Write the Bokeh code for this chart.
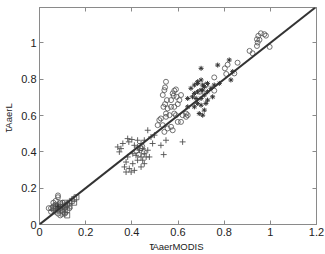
from bokeh.plotting import figure
from bokeh.models import (FixedTicker, LinearAxis, Range1d, Label, Slope)
from bokeh.embed import file_html
from bokeh.resources import INLINE

# ---- data ----
circle_x = [0.948, 0.959, 0.974, 0.942, 0.953, 0.945, 0.981, 0.997, 0.942, 0.910, 0.923,
            0.858, 0.815, 0.803, 0.844, 0.809, 0.757, 0.721, 0.757, 0.694, 0.642, 0.635,
            0.548, 0.544, 0.541, 0.534, 0.552, 0.544, 0.537, 0.570, 0.581, 0.584, 0.591,
            0.577, 0.594, 0.606, 0.613, 0.599, 0.584, 0.570, 0.555, 0.548, 0.526, 0.519,
            0.512, 0.534, 0.548, 0.563, 0.584, 0.591, 0.570, 0.541, 0.555, 0.577, 0.599,
            0.620, 0.613, 0.635,
            0.440, 0.430, 0.452, 0.420, 0.445,
            0.08, 0.08, 0.07, 0.06, 0.09, 0.05, 0.06, 0.07, 0.08, 0.09, 0.10, 0.11,
            0.06, 0.07, 0.09, 0.10, 0.11, 0.12, 0.05, 0.08, 0.10, 0.13, 0.04, 0.07]
circle_y = [1.039, 1.053, 1.048, 1.020, 1.017, 1.002, 1.040, 0.978, 0.983, 0.956, 0.943,
            0.891, 0.880, 0.860, 0.832, 0.829, 0.810, 0.768, 0.737, 0.731, 0.602, 0.593,
            0.786, 0.755, 0.740, 0.713, 0.685, 0.663, 0.648, 0.685, 0.709, 0.737, 0.744,
            0.722, 0.703, 0.685, 0.713, 0.663, 0.648, 0.648, 0.639, 0.611, 0.584, 0.575,
            0.547, 0.547, 0.593, 0.602, 0.611, 0.602, 0.538, 0.510, 0.529, 0.519, 0.565,
            0.602, 0.565, 0.611,
            0.420, 0.385, 0.400, 0.405, 0.430,
            0.16, 0.15, 0.13, 0.12, 0.12, 0.09, 0.08, 0.07, 0.06, 0.05, 0.07, 0.06,
            0.10, 0.09, 0.09, 0.10, 0.09, 0.11, 0.07, 0.08, 0.12, 0.09, 0.09, 0.11]

plus_x = [0.339, 0.353, 0.346, 0.361, 0.382, 0.387, 0.400, 0.411, 0.425, 0.440, 0.433,
          0.447, 0.454, 0.469, 0.440, 0.418, 0.404, 0.382, 0.375, 0.368, 0.389, 0.404,
          0.425, 0.447, 0.462, 0.397, 0.375, 0.411, 0.440, 0.454, 0.476, 0.498, 0.490,
          0.469, 0.483, 0.526, 0.548, 0.538, 0.620, 0.425, 0.454]
plus_y = [0.427, 0.418, 0.400, 0.446, 0.473, 0.455, 0.468, 0.436, 0.427, 0.446, 0.409,
          0.418, 0.390, 0.409, 0.372, 0.381, 0.390, 0.372, 0.344, 0.317, 0.308, 0.335,
          0.354, 0.354, 0.372, 0.289, 0.289, 0.298, 0.317, 0.335, 0.372, 0.492, 0.446,
          0.519, 0.482, 0.436, 0.464, 0.385, 0.455, 0.464, 0.464]

star_x = [0.656, 0.671, 0.685, 0.700, 0.707, 0.714, 0.728, 0.700, 0.685, 0.671, 0.663,
          0.678, 0.700, 0.714, 0.728, 0.743, 0.757, 0.700, 0.772, 0.822, 0.837, 0.829,
          0.692, 0.707, 0.714, 0.671, 0.685, 0.642, 0.642, 0.700, 0.728, 0.721, 0.750,
          0.779, 0.707, 0.685, 0.08]
star_y = [0.750, 0.768, 0.786, 0.796, 0.768, 0.759, 0.777, 0.740, 0.731, 0.722, 0.703,
          0.694, 0.694, 0.713, 0.731, 0.750, 0.768, 0.860, 0.878, 0.906, 0.842, 0.796,
          0.611, 0.602, 0.630, 0.648, 0.667, 0.694, 0.648, 0.657, 0.685, 0.667, 0.703,
          0.777, 0.740, 0.777, 0.10]

square_x = [0.12, 0.13, 0.14, 0.15, 0.16, 0.15, 0.11, 0.12, 0.10, 0.08, 0.09, 0.07,
            0.06, 0.11, 0.13, 0.12, 0.10, 0.11]
square_y = [0.11, 0.12, 0.13, 0.14, 0.15, 0.12, 0.12, 0.05, 0.08, 0.10, 0.11, 0.10,
            0.09, 0.10, 0.10, 0.08, 0.06, 0.07]

x_ticks = [0, 0.2, 0.4, 0.6, 0.8, 1.0, 1.2]
y_ticks = [0, 0.2, 0.4, 0.6, 0.8, 1.0]
tick_labels = {0: "0", 0.2: "0.2", 0.4: "0.4", 0.6: "0.6", 0.8: "0.8", 1: "1", 1.2: "1.2"}
blank_labels = {t: "" for t in x_ticks}
x_sub = "AaerMODIS"
y_sub = "AaerL"
tau = "τ"

FONT = "Liberation Sans"
AX = "#8a8a8a"
TXT = "#222222"

p = figure(width=325, height=254, output_backend="svg", toolbar_location=None,
           x_range=Range1d(0, 1.2), y_range=Range1d(0, 1.195),
           min_border_left=38, min_border_right=9, min_border_top=7, min_border_bottom=30,
           x_axis_location=None, y_axis_location=None)
p.background_fill_color = "white"
p.border_fill_color = "white"
p.outline_line_color = AX
p.outline_line_width = 1
p.xgrid.visible = False
p.ygrid.visible = False

def style(ax):
    ax.axis_line_color = AX
    ax.major_tick_line_color = AX
    ax.minor_tick_line_color = None
    ax.major_tick_in = 4
    ax.major_tick_out = 0
    ax.major_label_text_font = FONT
    ax.major_label_text_font_size = "11px"
    ax.major_label_text_color = TXT
    ax.axis_label_text_font = FONT
    ax.axis_label_text_font_size = "9.5px"
    ax.axis_label_text_font_style = "normal"
    ax.axis_label_text_color = TXT

xb = LinearAxis(ticker=FixedTicker(ticks=x_ticks), major_label_overrides=tick_labels,
                major_label_standoff=3, axis_label=x_sub, axis_label_standoff=2)
style(xb)
p.add_layout(xb, "below")
xt = LinearAxis(ticker=FixedTicker(ticks=x_ticks), major_label_overrides=blank_labels,
                major_label_standoff=0)
style(xt)
p.add_layout(xt, "above")
yl = LinearAxis(ticker=FixedTicker(ticks=y_ticks), major_label_overrides=tick_labels,
                major_label_standoff=3, axis_label=y_sub, axis_label_standoff=4)
style(yl)
p.add_layout(yl, "left")
yr = LinearAxis(ticker=FixedTicker(ticks=y_ticks), major_label_overrides=blank_labels,
                major_label_standoff=0)
style(yr)
p.add_layout(yr, "right")

p.add_layout(Slope(gradient=1, y_intercept=0, line_color="#333333", line_width=2))

MC = "#505050"
p.scatter(circle_x, circle_y, marker="circle", size=5, fill_color=None,
          line_color=MC, line_width=0.8)
p.scatter(square_x, square_y, marker="square", size=5, fill_color=None,
          line_color=MC, line_width=0.8)
p.scatter(plus_x, plus_y, marker="cross", size=6, line_color=MC, line_width=0.9)
p.scatter(star_x, star_y, marker="asterisk", size=5, line_color="#333333", line_width=1)

# the tau symbols of the axis titles (canvas pixel units, placed in side panels
# so that they are not clipped to the frame)
p.add_layout(Label(x=149, y=245, x_units="canvas", y_units="canvas", text=tau,
                   text_font=FONT, text_font_size="11px", text_color=TXT,
                   text_align="left", text_baseline="alphabetic"), "right")
p.add_layout(Label(x=7, y=132, x_units="canvas", y_units="canvas", text=tau,
                   text_font=FONT, text_font_size="11px", text_color=TXT,
                   text_align="left", text_baseline="alphabetic", angle=1.5708), "above")

open("out.html", "w").write(file_html(p, INLINE))
